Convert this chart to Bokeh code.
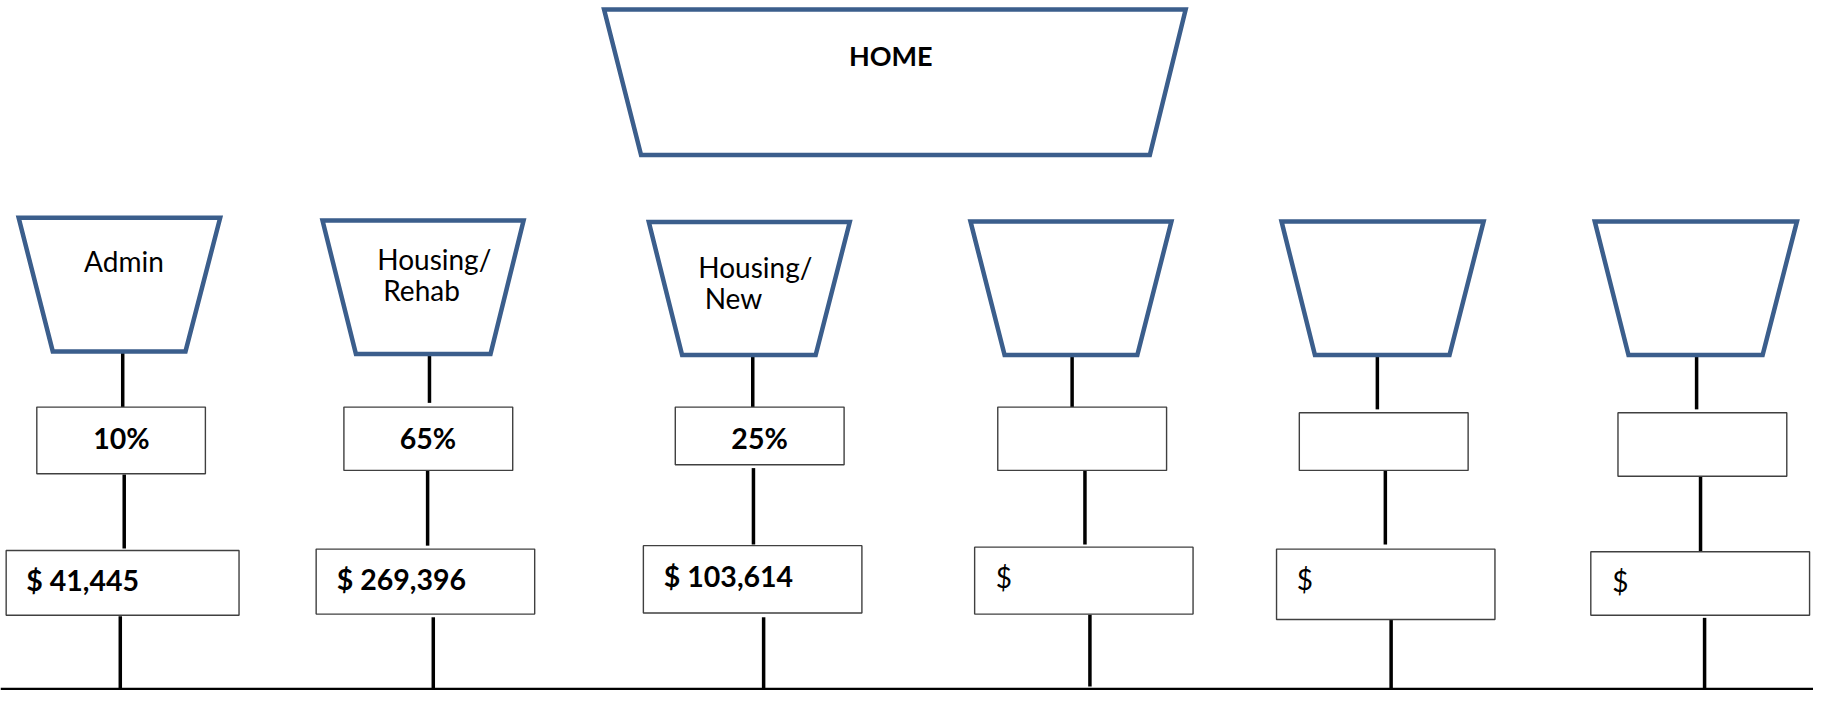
from bokeh.plotting import figure
from bokeh.models import Range1d
from bokeh.core.properties import value
from bokeh.embed import file_html
from bokeh.resources import INLINE

# ---------------- data ----------------
root_label = "HOME"
categories = ["Admin", "Housing/\nRehab", "Housing/\nNew", "", "", ""]
shares = ["10%", "65%", "25%", "", "", ""]
amounts = [41445, 269396, 103614, None, None, None]

# ---------------- layout (reference units, 1568 x 605) ----------------
W, H = 1568, 605
root_top = (522, 1025)
root_bot = (554, 994)
root_y = (8, 135.5)
root_text_xy = (770, 48)

trap_tl = [15.7, 278.5, 560.7, 838.9, 1107.9, 1378.8]
trap_tr = [190.0, 452.4, 734.5, 1012.7, 1282.7, 1553.7]
trap_bl = [45.2, 307.4, 589.5, 868.4, 1136.8, 1408.0]
trap_br = [160.0, 423.8, 705.0, 983.2, 1253.2, 1524.0]
trap_top = [190.5, 193.0, 194.3, 193.7, 193.7, 193.7]
trap_bot = [307.7, 310.0, 310.8, 310.8, 310.8, 310.8]

label_x = [[72.3], [325.8, 331.0], [603.5, 609.0], [], [], []]
label_y = [228.5, 226.5, 233.5, 0, 0, 0]
label_step = 27.5

pct_l = [31.4, 297.0, 583.6, 862.5, 1123.3, 1398.9]
pct_r = [177.2, 443.0, 729.6, 1008.5, 1269.3, 1544.9]
pct_t = [356.5, 356.5, 356.5, 356.5, 361.4, 361.4]
pct_b = [415.0, 412.0, 407.0, 412.0, 412.0, 417.1]
pct_text_x = [104.6, 369.7, 656.5, 935, 1196, 1472]
pct_text_y = [384.0, 384.0, 383.5, 384, 386, 389]

amt_l = [4.9, 273.0, 556.0, 842.5, 1103.6, 1375.4]
amt_r = [206.3, 462.0, 745.0, 1031.4, 1292.5, 1564.6]
amt_t = [482.2, 481.0, 478.0, 479.3, 481.0, 483.3]
amt_b = [539.0, 538.0, 537.0, 538.0, 542.7, 539.0]
amt_text_x = [22.3, 290.8, 573.7, 860.8, 1121.0, 1394.0]
amt_text_y = [508.5, 507.5, 505.0, 505.5, 507.5, 509.0]

c1_x = [105.7, 371.0, 650.6, 926.8, 1190.8, 1466.9]
c1_y1 = [356.5, 352.8, 356.5, 358.5, 358.5, 358.5]
c2_x = [107.0, 369.4, 651.2, 937.9, 1197.7, 1470.3]
c2_y0 = [415.6, 412.0, 410.0, 412.0, 412.0, 417.0]
c2_y1 = [480.5, 478.0, 477.0, 477.0, 477.0, 482.9]
c3_x = [103.6, 374.3, 660.0, 942.2, 1202.7, 1473.8]
c3_y0 = [540.0, 540.8, 540.8, 538.5, 542.7, 541.3]
c3_y1 = [605, 605, 605, 601.5, 605, 605]
base_y = 604.0

BLUE = "#3B5E8C"
BOX = "#404040"
FONT = "Lato"
FS = "28px"
FSB = "28.5px"

p = figure(width=1813, height=690, output_backend="svg", toolbar_location=None,
           x_range=Range1d(0, W), y_range=Range1d(H, 0), min_border=0)
p.axis.visible = False
p.grid.visible = False
p.outline_line_color = None
p.background_fill_color = "white"

n = len(categories)
# connectors
p.segment(x0=c1_x, y0=trap_bot, x1=c1_x, y1=c1_y1, line_color="black", line_width=3.5)
p.segment(x0=c2_x, y0=c2_y0, x1=c2_x, y1=c2_y1, line_color="black", line_width=3.5)
p.segment(x0=c3_x, y0=c3_y0, x1=c3_x, y1=c3_y1, line_color="black", line_width=3.5)
p.segment(x0=[0], y0=[base_y], x1=[W], y1=[base_y], line_color="black", line_width=3)

# root trapezoid
p.patch(x=[root_top[0], root_top[1], root_bot[1], root_bot[0]],
        y=[root_y[0], root_y[0], root_y[1], root_y[1]],
        fill_color="white", line_color=BLUE, line_width=4.5, line_join="miter")
p.text(x=[root_text_xy[0]], y=[root_text_xy[1]], text=[root_label], text_align="center",
       text_baseline="middle", text_font=value(FONT), text_font_style="bold",
       text_font_size="27px", text_color="black")

# category trapezoids
xs = [[trap_tl[i], trap_tr[i], trap_br[i], trap_bl[i]] for i in range(n)]
ys = [[trap_top[i], trap_top[i], trap_bot[i], trap_bot[i]] for i in range(n)]
p.patches(xs=xs, ys=ys, fill_color="white", line_color=BLUE, line_width=4.5, line_join="miter")

lx, ly, lt = [], [], []
for i, cat in enumerate(categories):
    if not cat:
        continue
    for j, line in enumerate(cat.split("\n")):
        lx.append(label_x[i][j]); ly.append(label_y[i] + j * label_step); lt.append(line)
p.text(x=lx, y=ly, text=lt, text_align="left", text_baseline="middle",
       text_font=value(FONT), text_font_size=FS, text_color="black")

# share boxes
p.quad(left=pct_l, right=pct_r, top=pct_t, bottom=pct_b, fill_color="white",
       line_color=BOX, line_width=1.4)
p.text(x=pct_text_x, y=pct_text_y, text=shares, text_align="center", text_baseline="middle",
       text_font=value(FONT), text_font_style="bold", text_font_size=FSB, text_color="black")

# amount boxes
p.quad(left=amt_l, right=amt_r, top=amt_t, bottom=amt_b, fill_color="white",
       line_color=BOX, line_width=1.4)
filled = [i for i in range(n) if amounts[i] is not None]
empty = [i for i in range(n) if amounts[i] is None]
p.text(x=[amt_text_x[i] for i in filled], y=[amt_text_y[i] for i in filled],
       text=["$ {:,}".format(amounts[i]) for i in filled], text_align="left",
       text_baseline="middle", text_font=value(FONT), text_font_style="bold",
       text_font_size=FSB, text_color="black")
p.text(x=[amt_text_x[i] for i in empty], y=[amt_text_y[i] for i in empty],
       text=["$" for i in empty], text_align="left", text_baseline="middle",
       text_font=value(FONT), text_font_size=FS, text_color="black")

open("out.html", "w").write(file_html(p, INLINE))
